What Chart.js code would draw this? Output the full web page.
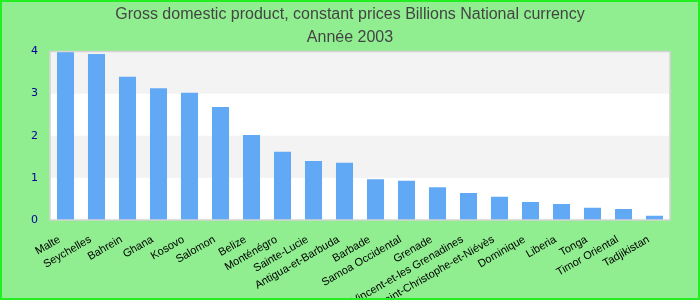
<!DOCTYPE html>
<html>
<head>
<meta charset="utf-8">
<script src="https://cdn.jsdelivr.net/npm/chart.js@4"></script>
<style>
    html, body { margin: 0; padding: 0; background: #90ee90; }
    canvas { display: block; }
</style>
</head>
<body>
<canvas id="chartPib" width="700" height="300"></canvas>
<script>
// Données
const PAYS = [
    'Malte', 'Seychelles', 'Bahrein', 'Ghana', 'Kosovo', 'Salomon',
    'Belize', 'Monténégro', 'Sainte-Lucie', 'Antigua-et-Barbuda',
    'Barbade', 'Samoa Occidental', 'Grenade',
    'Saint-Vincent-et-les Grenadines', 'Saint-Christophe-et-Niévès',
    'Dominique', 'Liberia', 'Tonga', 'Timor Oriental', 'Tadjikistan'
];
const VALEURS = [
    3.99, 3.94, 3.40, 3.13, 3.02, 2.68,
    2.02, 1.62, 1.40, 1.36,
    0.97, 0.93, 0.78,
    0.64, 0.55,
    0.43, 0.38, 0.29, 0.26, 0.10
];
const Y_TICKS = [0, 1, 2, 3, 4];
const TITRE = [
    'Gross domestic product, constant prices Billions National currency',
    'Année 2003'
];

// fond, bandes alternées, cadre
const decor = {
    id: 'decor',
    beforeDraw(chart) {
        const { ctx, width, height, chartArea: a, scales: { y } } = chart;
        ctx.save();
        ctx.fillStyle = '#90ee90';
        ctx.fillRect(0, 0, width, height);
        ctx.fillStyle = '#ffffff';
        ctx.fillRect(a.left, a.top, a.right - a.left, a.bottom - a.top);
        ctx.fillStyle = '#f3f3f3';
        for (let i = 0; i < Y_TICKS.length - 1; i++) {
            if (i % 2 === 1) {
                const y1 = y.getPixelForValue(Y_TICKS[i]);
                const y2 = y.getPixelForValue(Y_TICKS[i + 1]);
                ctx.fillRect(a.left, y2, a.right - a.left, y1 - y2);
            }
        }
        ctx.restore();
    },
    afterDraw(chart) {
        const { ctx, width, height, chartArea: a } = chart;
        ctx.save();
        ctx.strokeStyle = '#d4d4d4';
        ctx.lineWidth = 1.5;
        ctx.strokeRect(a.left, a.top, a.right - a.left, a.bottom - a.top);
        ctx.strokeStyle = '#22ee22';
        ctx.lineWidth = 2;
        ctx.strokeRect(1, 1, width - 2, height - 2);
        ctx.restore();
    }
};

new Chart(document.getElementById('chartPib'), {
    type: 'bar',
    data: {
        labels: PAYS,
        datasets: [{
            data: VALEURS,
            backgroundColor: '#62a9f5',
            categoryPercentage: 1,
            barPercentage: 0.55
        }]
    },
    options: {
        responsive: false,
        animation: false,
        layout: { padding: 0 },
        plugins: {
            legend: { display: false },
            tooltip: { enabled: false },
            title: {
                display: true,
                text: TITRE,
                color: '#444444',
                font: { family: 'Liberation Sans', size: 16, weight: 'normal', lineHeight: 1.45 },
                padding: { top: 2.8, bottom: 2.3 }
            }
        },
        scales: {
            x: {
                grid: { display: false },
                border: { display: false },
                ticks: {
                    color: '#000000',
                    font: { family: 'Liberation Sans', size: 11 },
                    autoSkip: false,
                    minRotation: 30,
                    maxRotation: 30,
                    padding: 5,
                    labelOffset: -6
                },
                afterFit(s) { s.height = 80; }
            },
            y: {
                min: 0,
                max: 4,
                grid: { display: false },
                border: { display: false },
                afterBuildTicks(s) { s.ticks = Y_TICKS.map(v => ({ value: v })); },
                ticks: {
                    color: '#000099',
                    font: { family: 'DejaVu Sans', size: 11 },
                    padding: 4
                },
                afterFit(s) { s.width = 50; }
            },
            // marge droite sans décaler le titre
            droite: {
                position: 'right',
                grid: { display: false },
                border: { display: false },
                ticks: { display: false },
                afterFit(s) { s.width = 30; }
            }
        }
    },
    plugins: [decor]
});
</script>
</body>
</html>
